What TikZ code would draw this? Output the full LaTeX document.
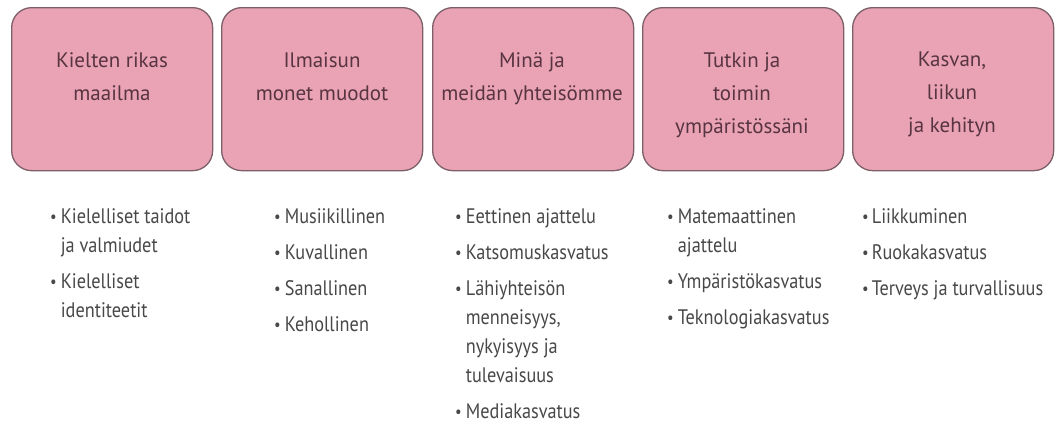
\documentclass[tikz,border=0pt]{standalone}
\usepackage{fontspec}
\usepackage{graphicx}
\setmainfont{PT Sans}
\newfontfamily\listfont{PT Sans}[FakeStretch=0.87]
\definecolor{boxfill}{RGB}{233,163,180}
\definecolor{boxline}{RGB}{125,95,105}
\definecolor{titletext}{RGB}{88,52,66}
\definecolor{listtext}{RGB}{72,72,72}
\newcommand\bul{\raisebox{0.1ex}{\scalebox{0.8}{•}}}
\begin{document}
\begin{tikzpicture}[x=1pt,y=-1pt,
  topicbox/.style={draw=boxline,fill=boxfill,line width=1.3pt,rounded corners=20pt,
    minimum width=201pt,minimum height=163pt,anchor=north west,inner sep=0pt},
  titletxt/.style={anchor=north,align=center,inner sep=0pt,text=titletext,
    font=\fontsize{21}{33}\selectfont},
  listtxt/.style={anchor=north west,inner sep=0pt,text=listtext,
    font=\listfont\fontsize{21}{29}\selectfont}]
\useasboundingbox[fill=white] (0,0) rectangle (1056,424);
% boxes
\node[topicbox] (b1) at (11,7) {};
\node[topicbox] (b2) at (221,7) {};
\node[topicbox] (b3) at (432,7) {};
\node[topicbox] (b4) at (642,7) {};
\node[topicbox] (b5) at (852,7) {};
% titles
\node[titletxt] (t1) at (112,52) {Kielten rikas\\maailma};
\node[titletxt] (t2) at (322,52) {Ilmaisun\\monet muodot};
\node[titletxt] (t3) at (532,52) {Minä ja\\meidän yhteisömme};
\node[titletxt] (t4) at (742,52) {Tutkin ja\\toimin\\ympäristössäni};
\node[titletxt] (t5) at (952,52) {Kasvan,\\liikun\\ja kehityn};
% lists
\node[listtxt] (l1) at (50,203) {\begin{tabular}{@{}l@{\hspace{4pt}}l@{}}
\bul & Kielelliset taidot\\ & ja valmiudet\\[7pt]
\bul & Kielelliset\\ & identiteetit
\end{tabular}};
\node[listtxt] (l2) at (274,203) {\begin{tabular}{@{}l@{\hspace{4pt}}l@{}}
\bul & Musiikillinen\\[7pt]
\bul & Kuvallinen\\[7pt]
\bul & Sanallinen\\[7pt]
\bul & Kehollinen
\end{tabular}};
\node[listtxt] (l3) at (455,203) {\begin{tabular}{@{}l@{\hspace{4pt}}l@{}}
\bul & Eettinen ajattelu\\[7pt]
\bul & Katsomuskasvatus\\[7pt]
\bul & Lähiyhteisön\\ & menneisyys,\\ & nykyisyys ja\\ & tulevaisuus\\[7pt]
\bul & Mediakasvatus
\end{tabular}};
\node[listtxt] (l4) at (667,203) {\begin{tabular}{@{}l@{\hspace{4pt}}l@{}}
\bul & Matemaattinen\\ & ajattelu\\[7pt]
\bul & Ympäristökasvatus\\[7pt]
\bul & Teknologiakasvatus
\end{tabular}};
\node[listtxt] (l5) at (862,203) {\begin{tabular}{@{}l@{\hspace{3pt}}l@{}}
\bul & Liikkuminen\\[7pt]
\bul & Ruokakasvatus\\[7pt]
\bul & Terveys ja turvallisuus
\end{tabular}};
\end{tikzpicture}
\end{document}
